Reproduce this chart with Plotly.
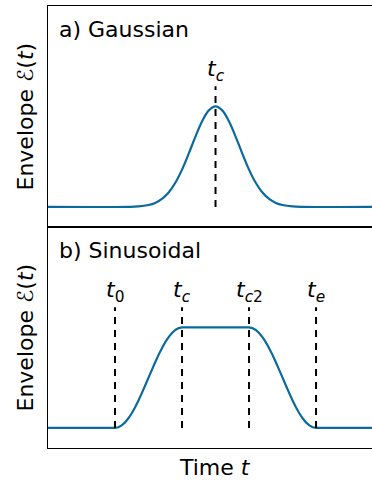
import plotly.graph_objects as go
from plotly.subplots import make_subplots

# ---- data ----
# a) Gaussian envelope (normalised), peak at t_c
gauss_t = [0.0, 2.4, 2.7, 3.0, 3.2, 3.4, 3.6, 3.8, 4.0, 4.2, 4.4, 4.6, 4.8, 5.0,
           5.2, 5.4, 5.6, 5.8, 6.0, 6.2, 6.4, 6.6, 6.8, 7.0, 7.3, 7.6, 10.0]
gauss_env = [0.0, 0.001, 0.005, 0.019, 0.040, 0.079, 0.143, 0.240, 0.371, 0.530, 0.700, 0.853, 0.961, 1.0,
             0.961, 0.853, 0.700, 0.530, 0.371, 0.240, 0.143, 0.079, 0.040, 0.019, 0.005, 0.001, 0.0]
gauss_event_t = [5.0]
gauss_event_lbl = ["<i>t</i><sub><i>c</i></sub>"]

# b) Sinusoidal (flat-top) envelope
sin_t = [0.0, 2.0, 2.1, 2.2, 2.3, 2.4, 2.5, 2.6, 2.7, 2.8, 2.9, 3.0, 3.1, 3.2, 3.3, 3.4, 3.5,
         3.6, 3.7, 3.8, 3.9, 4.0,
         6.0, 6.1, 6.2, 6.3, 6.4, 6.5, 6.6, 6.7, 6.8, 6.9, 7.0, 7.1, 7.2, 7.3, 7.4, 7.5,
         7.6, 7.7, 7.8, 7.9, 8.0, 10.0]
sin_env = [0.0, 0.0, 0.006, 0.025, 0.055, 0.096, 0.146, 0.206, 0.273, 0.346, 0.422, 0.5, 0.578,
           0.654, 0.727, 0.794, 0.854, 0.904, 0.945, 0.975, 0.994, 1.0,
           1.0, 0.994, 0.975, 0.945, 0.904, 0.854, 0.794, 0.727, 0.654, 0.578, 0.5, 0.422,
           0.346, 0.273, 0.206, 0.146, 0.096, 0.055, 0.025, 0.006, 0.0, 0.0]
sin_event_t = [2.0, 4.0, 6.0, 8.0]
sin_event_lbl = ["<i>t</i><sub>0</sub>", "<i>t</i><sub><i>c</i></sub>",
                 "<i>t</i><sub><i>c</i>2</sub>", "<i>t</i><sub><i>e</i></sub>"]

panel_titles = ["a) Gaussian", "b) Sinusoidal"]
y_title = "Envelope <i>ℰ</i>(<i>t</i>)"
x_title = "Time <i>t</i>"

# ---- style ----
FONT = "DejaVu Sans"
LINE_COLOR = "#0a6a9e"
W, H = 372, 481
ML, MR, MT, MB = 48, 0, 6, 33
X_RANGE = [0, 9.67]
Y_RANGE = [-0.2, 2.0]
DASH_TOP = 1.2
LABEL_Y = 1.36

fig = make_subplots(rows=2, cols=1, shared_xaxes=True, vertical_spacing=0)

panels = [
    (gauss_t, gauss_env, gauss_event_t, gauss_event_lbl, "spline"),
    (sin_t, sin_env, sin_event_t, sin_event_lbl, "linear"),
]

for i, (tt, ee, evt, lbl, shape) in enumerate(panels, start=1):
    fig.add_trace(go.Scatter(x=tt, y=ee, mode="lines",
                             line=dict(color=LINE_COLOR, width=2.2, shape=shape, simplify=False),
                             showlegend=False, hoverinfo="skip"), row=i, col=1)
    for t, lab in zip(evt, lbl):
        fig.add_trace(go.Scatter(x=[t, t], y=[0, DASH_TOP], mode="lines",
                                 line=dict(color="black", width=2, dash="7px,6px"),
                                 showlegend=False, hoverinfo="skip"), row=i, col=1)
        fig.add_annotation(x=t, y=LABEL_Y, xref=f"x{'' if i == 1 else i}", yref=f"y{'' if i == 1 else i}",
                           text=lab, showarrow=False, xanchor="center", yanchor="middle",
                           font=dict(family=FONT, size=22, color="black"))

axis_style = dict(showgrid=False, zeroline=False, showticklabels=False, ticks="",
                  showline=True, linecolor="black", linewidth=1)
for i in (1, 2):
    fig.update_xaxes(range=X_RANGE, mirror=True, **axis_style, row=i, col=1)
    fig.update_yaxes(range=Y_RANGE, mirror=False, **axis_style, row=i, col=1)

plot_h = H - MT - MB
plot_w = W - ML - MR

# panel titles
for title, ydom in zip(panel_titles, [(0.5, 1.0), (0.0, 0.5)]):
    fig.add_annotation(x=9 / plot_w, y=ydom[1] - 23 / plot_h, xref="paper", yref="paper",
                       text=title, showarrow=False, xanchor="left", yanchor="middle",
                       font=dict(family=FONT, size=22, color="black"))
    fig.add_annotation(x=-23 / plot_w, y=(ydom[0] + ydom[1]) / 2, xref="paper", yref="paper",
                       text=y_title, textangle=-90, showarrow=False,
                       xanchor="center", yanchor="middle",
                       font=dict(family=FONT, size=22, color="black"))

fig.add_annotation(x=(215 - ML) / plot_w, y=-19 / plot_h, xref="paper", yref="paper",
                   text=x_title, showarrow=False, xanchor="center", yanchor="middle",
                   font=dict(family=FONT, size=22, color="black"))

fig.update_layout(width=W, height=H, autosize=False, margin=dict(l=ML, r=MR, t=MT, b=MB),
                  plot_bgcolor="white", paper_bgcolor="white",
                  font=dict(family=FONT, size=22, color="black"))

fig.write_html("out.html", config={"responsive": False, "displayModeBar": False},
               default_width=f"{W}px", default_height=f"{H}px",
               post_script="document.body.style.margin='0';document.body.style.overflow='hidden';")
